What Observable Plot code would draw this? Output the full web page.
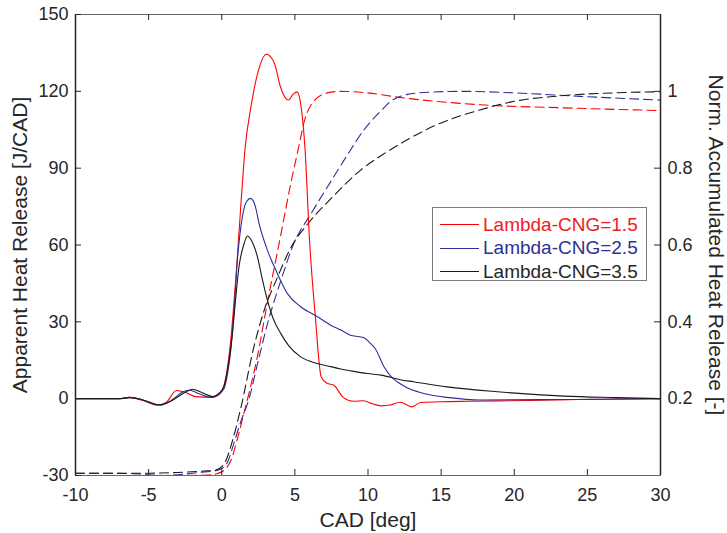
<!DOCTYPE html>
<html><head><meta charset="utf-8">
<script src="https://cdn.jsdelivr.net/npm/d3@7"></script>
<script src="https://cdn.jsdelivr.net/npm/@observablehq/plot@0.6"></script>
<style>
body{margin:0;background:#fff;font-family:"Liberation Sans",Arial,sans-serif}
#wrap{position:relative;width:727px;height:533px}
#legend{position:absolute;left:432px;top:207px;width:215px;height:74px;border:1px solid #7a7a7a;background:#fff;box-sizing:border-box}
</style></head>
<body><div id="wrap"></div>
<script>
// ---- data ----
const seriesNames = ["Lambda-CNG=1.5", "Lambda-CNG=2.5", "Lambda-CNG=3.5"];
const seriesColors = ["#ff0000", "#2e2e9c", "#1a1a1a"];
const legendTextColors = ["#ed1c24", "#2e3192", "#262626"];

// Apparent heat release [J/CAD] (solid)
const cadRed1 = [-10,-7,-6.3,-5.5,-4.4,-3.8,-3.1,-2.5,-1.8,-0.7,-0.1,0.3,0.6,1.0,1.3,1.6,2.0,2.5,3.05,3.6,4.0,4.55,4.9,5.15,5.4,5.7,6.0,6.4,6.8,7.2,7.65,8.3,9.0,9.7,10.3,10.9,11.5,12.2,13.0,13.6,14.0,15,17,21,24.5,30];
const ahrRed   = [0,0,0.5,-0.5,-2.5,-1.5,3.2,2.5,0.8,0.5,2,9,22,50,75,98,114,128,134.5,131,122,116.6,119,119.8,115,97,62,32,8.5,6,5.3,0.5,-1,-0.8,-2,-2.8,-2.5,-1.4,-3.2,-1.5,-1.4,-1.2,-1.0,-0.7,-0.3,0];

const cadBlue1 = [-10,-7,-6.3,-5.5,-4.3,-3.6,-2.6,-2.2,-1.6,-0.7,-0.2,0.16,0.4,0.62,0.85,1.07,1.41,1.7,1.98,2.3,2.55,3.12,3.8,4.49,5.4,6.54,7.45,8.14,8.8,9.4,9.73,10.1,10.5,11.1,11.6,12.0,12.7,13.4,14.3,15.4,17.7,24,30];
const ahrBlue   = [0,0,0.5,-0.3,-2.5,-1.2,2.8,3.3,2.0,0.5,2,4,10,19,35,54,71,77,78.2,75,68.4,58,48.9,41,35.9,32,28.7,26.8,24.8,24.2,23.8,22,19.5,12.4,8.5,6.6,4.2,2.7,1.4,0.5,-0.5,-0.3,0];

const cadBlack1 = [-10,-7,-6.3,-5.5,-4.2,-3.5,-2.5,-2.0,-1.4,-0.6,-0.2,0.16,0.45,0.73,1.0,1.18,1.5,1.76,2.1,2.44,2.8,3.12,3.5,4.03,4.6,5.4,6.54,7.45,8.14,8.8,9.97,10.9,12.2,13.1,15.4,18.85,23.4,27,30];
const ahrBlack   = [0,0,0.4,-0.3,-2.5,-1.0,2.5,3.7,2.5,0.8,2,5,13,25.5,42,51.5,60,63.5,61,55.4,46,38.5,31.5,25.5,20.5,16.3,13.7,12.5,11.6,10.9,9.8,9.2,7.4,6.6,4.6,2.7,1.0,0.4,0];

// Normalised accumulated heat release [-] (dashed, right axis)
const cadRed2 = [-10,-5,-3,-1,-0.3,0.2,0.62,1.07,1.5,1.9,2.44,3.12,4.03,4.72,5.29,5.63,6.31,7.22,8.14,9.97,12.0,17.7,23.4,30];
const nahrRed  = [0,0,0,0.001,0.005,0.015,0.039,0.095,0.16,0.22,0.31,0.45,0.625,0.76,0.86,0.92,0.975,0.996,1.0,0.996,0.985,0.965,0.957,0.95];

const cadBlue2 = [-10,-6,-5,-4,-3,-1.5,-0.5,0,0.4,0.84,1.3,1.87,2.44,3.12,4.03,4.94,6.08,7.45,8.6,9.73,10.2,10.9,11.56,12.7,14.3,16.6,20,24.5,30];
const nahrBlue  = [0.006,0.005,0.002,0,0.002,0.008,0.012,0.018,0.035,0.085,0.14,0.2,0.29,0.394,0.506,0.605,0.68,0.765,0.835,0.9,0.922,0.95,0.974,0.992,0.998,1.0,0.996,0.987,0.977];

const cadBlack2 = [-10,-5,-3,-1,-0.5,0.16,0.73,1.3,2.2,2.9,3.8,4.72,5.86,7.45,9.5,11.2,12.5,14.7,17.7,20,23.4,26.8,30];
const nahrBlack  = [0.006,0.006,0.008,0.012,0.013,0.03,0.09,0.175,0.335,0.43,0.515,0.593,0.654,0.72,0.795,0.84,0.87,0.913,0.952,0.974,0.989,0.996,0.999];

// axes
const xDomain = [-10, 30];
const yDomain = [-30, 150];
const xTicks = [-10,-5,0,5,10,15,20,25,30];
const yTicks = [-30,0,30,60,90,120,150];
const rightTicks = [0.2,0.4,0.6,0.8,1];
const rightTickLabels = ["0.2","0.4","0.6","0.8","1"];
const rightDomain = [0, 1.2]; // right axis spans the same frame as yDomain
const xLabel = "CAD [deg]";
const yLabel = "Apparent Heat Release [J/CAD]";
const y2Label = "Norm. Accumulated Heat Release [-]";

// ---- build tables ----
const toLeft = n => yDomain[0] + (n - rightDomain[0]) * (yDomain[1]-yDomain[0])/(rightDomain[1]-rightDomain[0]);
function rows(xs, ys, s){ return xs.map((x,i)=>({cad:x, v:ys[i], series:s})); }
const solid = [
  ...rows(cadRed1, ahrRed, seriesNames[0]),
  ...rows(cadBlue1, ahrBlue, seriesNames[1]),
  ...rows(cadBlack1, ahrBlack, seriesNames[2])
];
const dashed = [
  ...rows(cadRed2, nahrRed, seriesNames[0]),
  ...rows(cadBlue2, nahrBlue, seriesNames[1]),
  ...rows(cadBlack2, nahrBlack, seriesNames[2])
];

const W=727, H=533, mL=75, mR=67, mT=14, mB=58;
const fw = W-mL-mR, fh = H-mT-mB, tl = 6;
const axisColor = "#262626";

const chart = Plot.plot({
  width: W, height: H,
  marginLeft: mL, marginRight: mR, marginTop: mT, marginBottom: mB,
  style: "font-family:'Liberation Sans',Arial,sans-serif;font-size:18px;color:#262626;background:#fff;overflow:visible",
  x: {domain: xDomain},
  y: {domain: yDomain},
  color: {domain: seriesNames, range: seriesColors},
  marks: [
    Plot.line(dashed, {x:"cad", y: d=>toLeft(d.v), z:"series", stroke:"series", strokeWidth:1.1, strokeDasharray:"9,5", curve:"monotone-x"}),
    Plot.line(solid, {x:"cad", y:"v", z:"series", stroke:"series", strokeWidth:1.1, curve:"monotone-x"}),
    Plot.frame({stroke:"#666666", strokeWidth:1}),
    Plot.ruleX([xDomain[0], xDomain[1]], {stroke: axisColor, strokeWidth:1.5}),
    Plot.tickX(xTicks, {x:d=>d, insetTop: fh-tl, stroke: axisColor}),
    Plot.tickX(xTicks, {x:d=>d, insetBottom: fh-tl, stroke: axisColor}),
    Plot.tickY(yTicks, {y:d=>d, insetRight: fw-tl, stroke: axisColor}),
    Plot.tickY(rightTicks, {y:d=>toLeft(d), insetLeft: fw-tl, stroke: axisColor}),
    Plot.axisX(xTicks, {tickSize:0, tickPadding:13, label:null, fill: axisColor, tickFormat: d=>String(d)}),
    Plot.axisY(yTicks, {anchor:"left", tickSize:0, tickPadding:7, label:null, fill: axisColor, tickFormat: d=>String(d)}),
    Plot.axisY(rightTicks.map(toLeft), {anchor:"right", tickSize:0, tickPadding:7, label:null, fill: axisColor, tickFormat:(d,i)=>rightTickLabels[i]}),
    Plot.text([xLabel], {text:d=>d, frameAnchor:"bottom", textAnchor:"middle", dy:45, fontSize:21, fill: axisColor, lineAnchor:"middle"}),
    Plot.text([yLabel], {text:d=>d, frameAnchor:"left", textAnchor:"middle", dx:-55, rotate:-90, fontSize:21, fill: axisColor, lineAnchor:"middle"}),
    Plot.text([y2Label], {text:d=>d, frameAnchor:"right", textAnchor:"middle", dx:55, rotate:90, fontSize:21, fill: axisColor, lineAnchor:"middle"})
  ]
});
const wrap = document.getElementById("wrap");
wrap.appendChild(chart);

// legend
const leg = d3.select(wrap).append("div").attr("id","legend");
const lsvg = leg.append("svg").attr("width",213).attr("height",72).style("display","block").style("overflow","visible");
seriesNames.forEach((name, i) => {
  const y = 16 + i*23.5;
  lsvg.append("line").attr("x1",7).attr("x2",46).attr("y1",Math.round(y)+0.5).attr("y2",Math.round(y)+0.5)
    .attr("stroke", seriesColors[i]).attr("stroke-width",1);
  lsvg.append("text").attr("x",50).attr("y",y).attr("dy","0.35em")
    .attr("fill", legendTextColors[i])
    .style("font-family","'Liberation Sans',Arial,sans-serif").style("font-size","19px")
    .text(name);
});
</script></body></html>
